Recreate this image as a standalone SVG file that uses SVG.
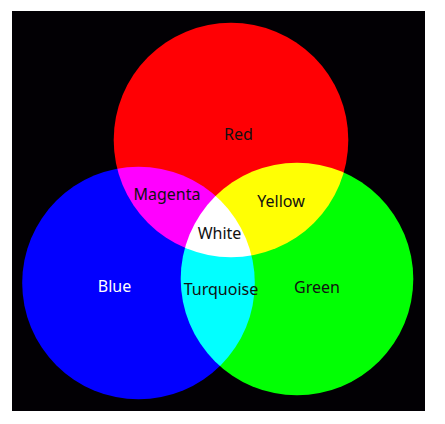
<svg xmlns="http://www.w3.org/2000/svg" width="445" height="424" viewBox="0 0 445 424">
<style>
.c{mix-blend-mode:screen}
.t{font-family:"Noto Sans","Open Sans",sans-serif;font-size:16px;text-anchor:middle}
.dk{fill:#111}
.lt{fill:#fff}
</style>
<rect width="445" height="424" fill="#fff"/>
<g id="canvas" style="isolation:isolate">
<rect x="12" y="11" width="413" height="400" fill="#020004"/>
<g id="red"><circle class="c" cx="231" cy="140" r="117.3" fill="#ff0000"/></g>
<g id="blue"><circle class="c" cx="138.5" cy="283" r="116.3" fill="#0000ff"/></g>
<g id="green"><circle class="c" cx="297" cy="279" r="116.3" fill="#00ff00"/></g>
</g>
<g id="labels">
<text class="t dk" x="238.5" y="140">Red</text>
<text class="t dk" x="167" y="200">Magenta</text>
<text class="t dk" x="281" y="207">Yellow</text>
<text class="t dk" x="219.5" y="239">White</text>
<text class="t lt" x="114.5" y="292">Blue</text>
<text class="t dk" x="221" y="295">Turquoise</text>
<text class="t dk" x="317" y="293">Green</text>
</g>
</svg>
